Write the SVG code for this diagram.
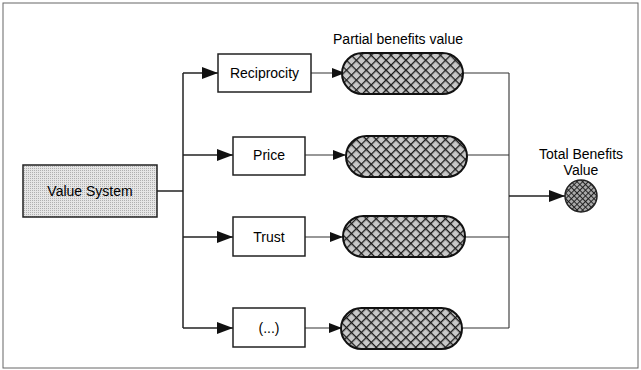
<svg xmlns="http://www.w3.org/2000/svg" width="641" height="370" viewBox="0 0 641 370">
<style>
text{font-family:"Liberation Sans",Arial,sans-serif;font-size:14px;fill:#000;text-anchor:middle}
.box{fill:#fff;stroke:#222;stroke-width:1.5}
.cap{fill:url(#hatch);stroke:#111;stroke-width:2}
.ln{fill:none;stroke:#222;stroke-width:1.5}
.thin{fill:none;stroke:#333;stroke-width:1.1}
</style>
<defs>
<pattern id="dots" width="2" height="2" patternUnits="userSpaceOnUse">
<rect width="2" height="2" fill="#e6e6e6"/>
<rect width="1" height="1" fill="#b0b0b0"/>
</pattern>
<pattern id="hatch" width="7" height="7" patternUnits="userSpaceOnUse" patternTransform="rotate(45)">
<rect width="7" height="7" fill="#c8c8c8"/>
<line x1="0" y1="0" x2="7" y2="0" stroke="#1a1a1a" stroke-width="2.6"/>
<line x1="0" y1="0" x2="0" y2="7" stroke="#1a1a1a" stroke-width="2.6"/>
</pattern>
<pattern id="fine" width="4" height="4" patternUnits="userSpaceOnUse" patternTransform="rotate(45)">
<rect width="4" height="4" fill="#aaa"/>
<line x1="0" y1="0" x2="4" y2="0" stroke="#1a1a1a" stroke-width="1.8"/>
<line x1="0" y1="0" x2="0" y2="4" stroke="#1a1a1a" stroke-width="1.8"/>
</pattern>
<marker id="big" markerWidth="16" markerHeight="12" refX="16" refY="6" orient="auto" markerUnits="userSpaceOnUse">
<path d="M0,0 L16,6 L0,12 z" fill="#111"/>
</marker>
<marker id="small" markerWidth="13" markerHeight="10" refX="13" refY="5" orient="auto" markerUnits="userSpaceOnUse">
<path d="M0,0 L13,5 L0,10 z" fill="#111"/>
</marker>
</defs>
<rect x="3" y="3" width="635" height="365" fill="#fff" stroke="#666" stroke-width="1"/>
<g id="connectors">
<path class="ln" d="M157,191 H183"/>
<path class="ln" d="M183,73 V328"/>
<path class="ln" d="M183,73 H218" marker-end="url(#big)"/>
<path class="ln" d="M183,155 H233" marker-end="url(#big)"/>
<path class="ln" d="M183,237 H233" marker-end="url(#big)"/>
<path class="ln" d="M183,328 H233" marker-end="url(#big)"/>
<path class="thin" d="M311,73 H345" marker-end="url(#small)"/>
<path class="thin" d="M305,155 H346" marker-end="url(#small)"/>
<path class="thin" d="M305,237 H343" marker-end="url(#small)"/>
<path class="thin" d="M305,328 H342" marker-end="url(#small)"/>
<path class="thin" d="M463,73 H509 M467,155 H509 M465,237 H509 M462,328 H509 M509,73 V328"/>
<path class="ln" d="M509,196 H565" marker-end="url(#big)"/>
</g>
<g id="value-system">
<rect x="23" y="165" width="134" height="52" fill="url(#dots)" stroke="#222" stroke-width="1.5"/>
<text x="90" y="196">Value System</text>
</g>
<g id="reciprocity">
<rect class="box" x="218" y="54" width="93" height="38"/>
<text x="264.5" y="78">Reciprocity</text>
</g>
<g id="price">
<rect class="box" x="233" y="137" width="72" height="38"/>
<text x="269" y="160">Price</text>
</g>
<g id="trust">
<rect class="box" x="233" y="217" width="72" height="39"/>
<text x="269" y="242">Trust</text>
</g>
<g id="etc">
<rect class="box" x="233" y="308" width="72" height="39"/>
<text x="269" y="333">(...)</text>
</g>
<g id="partial-label">
<text x="398" y="44">Partial benefits value</text>
</g>
<g id="pb1"><rect class="cap" x="342" y="53" width="121" height="41" rx="20.5"/></g>
<g id="pb2"><rect class="cap" x="346" y="136" width="121" height="41" rx="20.5"/></g>
<g id="pb3"><rect class="cap" x="343" y="216" width="122" height="41" rx="20.5"/></g>
<g id="pb4"><rect class="cap" x="341" y="308" width="121" height="41" rx="20.5"/></g>
<g id="total">
<text x="581" y="159">Total Benefits</text>
<text x="581" y="175">Value</text>
<circle cx="581" cy="196" r="16" fill="url(#fine)" stroke="#222" stroke-width="1.5"/>
</g>
</svg>
